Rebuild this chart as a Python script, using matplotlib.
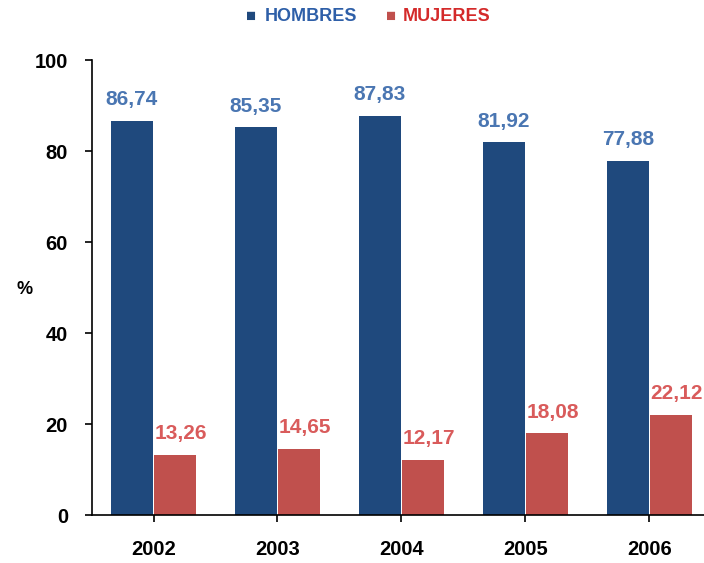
import matplotlib.pyplot as plt
import numpy as np

years = ['2002', '2003', '2004', '2005', '2006']
hombres = [86.74, 85.35, 87.83, 81.92, 77.88]
mujeres = [13.26, 14.65, 12.17, 18.08, 22.12]

plt.rcParams['font.family'] = ['Liberation Sans', 'DejaVu Sans']
plt.rcParams['font.weight'] = 'bold'

fig = plt.figure(figsize=(7.04, 5.63), dpi=100)
ax = fig.add_axes([0.13, 0.085, 0.87, 0.808])

x = np.arange(len(years))
w = 0.335
ax.bar(x - 0.175, hombres, w, color='#1F497D')
ax.bar(x + 0.175, mujeres, w, color='#C0504D')

for i in range(len(years)):
    ax.text(x[i] - 0.175, hombres[i] + 2.5, '{:.2f}'.format(hombres[i]).replace('.', ','),
            ha='center', va='bottom', fontsize=15, color='#4A76B2', fontweight='bold')
    ax.text(x[i] + 0.22, mujeres[i] + 2.5, '{:.2f}'.format(mujeres[i]).replace('.', ','),
            ha='center', va='bottom', fontsize=15, color='#D95B5B', fontweight='bold')

ax.set_ylim(0, 100)
ax.set_yticks([0, 20, 40, 60, 80, 100])
ax.set_xlim(-0.5, 4.44)
ax.set_xticks(x)
ax.set_xticklabels(years)
ax.tick_params(axis='both', labelsize=14.5, direction='out', length=5, width=1.2, colors='black')
ax.tick_params(axis='x', pad=13)
ax.tick_params(axis='y', pad=12)
for lab in ax.get_xticklabels() + ax.get_yticklabels():
    lab.set_fontweight('bold')

ax.spines['top'].set_visible(False)
ax.spines['right'].set_visible(False)
ax.spines['left'].set_linewidth(1.2)
ax.spines['bottom'].set_linewidth(1.2)

fig.text(0.035, 0.485, '%', fontsize=13, fontweight='bold', ha='center', va='center')

# legend
fig.text(0.357, 0.97, '\u25a0', color='#1F497D', fontsize=12, ha='center', va='center')
fig.text(0.376, 0.97, 'HOMBRES', color='#2E5FA8', fontsize=13, fontweight='bold', ha='left', va='center')
fig.text(0.555, 0.97, '\u25a0', color='#C0504D', fontsize=12, ha='center', va='center')
fig.text(0.572, 0.97, 'MUJERES', color='#D42A2A', fontsize=13, fontweight='bold', ha='left', va='center')

plt.savefig('out.png', dpi=100)
